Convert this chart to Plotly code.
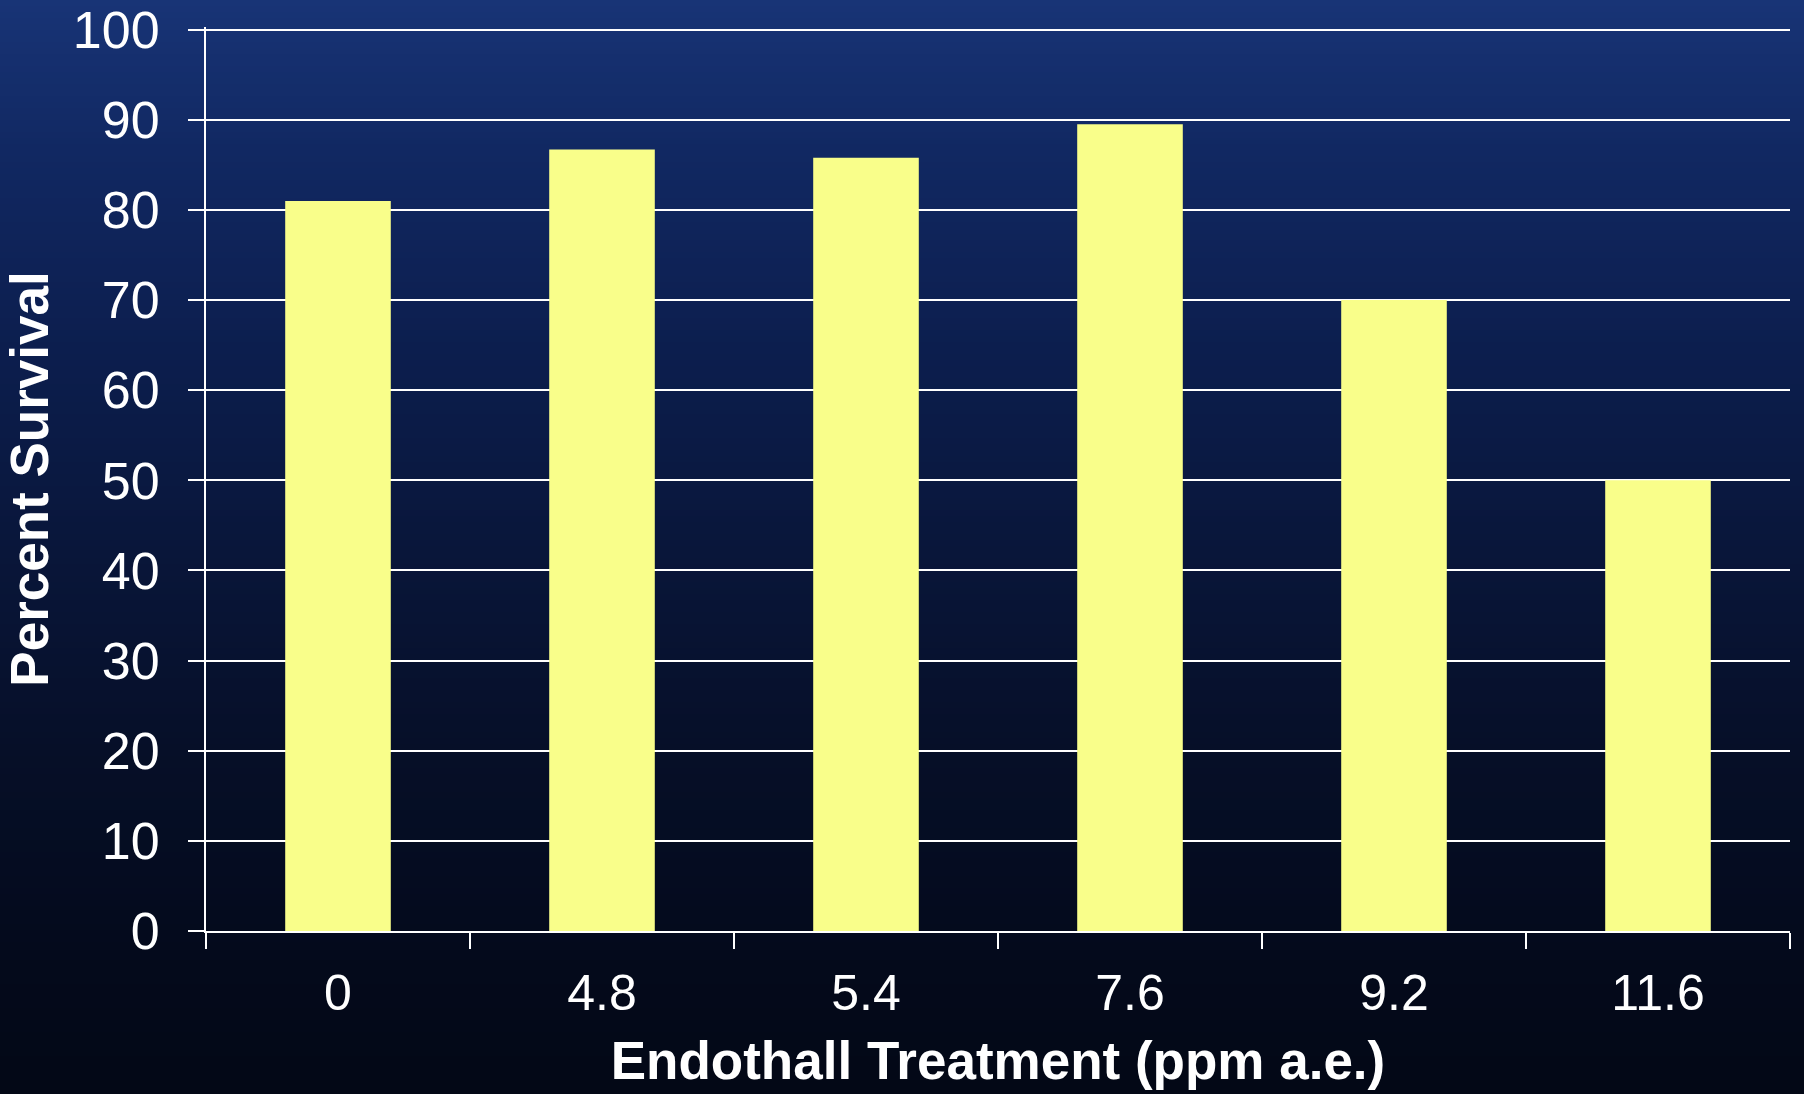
import plotly.graph_objects as go

# Endothall concentration (ppm a.e.) and percent survival
treatments = ["0", "4.8", "5.4", "7.6", "9.2", "11.6"]
survival = [81.0, 86.7, 85.8, 89.5, 70.0, 50.0]
y_ticks = [0, 10, 20, 30, 40, 50, 60, 70, 80, 90, 100]

W, H = 1804, 1094
M_L, M_R, M_T, M_B = 206, 14, 27, 163
plot_h = H - M_T - M_B

# Vertical navy gradient for the slide-style background (pixel y -> rgb)
grad_stops = [
    (0, (24, 52, 118)),
    (150, (17, 40, 98)),
    (350, (12, 30, 78)),
    (550, (9, 22, 58)),
    (750, (6, 15, 40)),
    (950, (4, 10, 28)),
    (H, (3, 8, 22)),
]


def grad_color(py):
    for (y0, c0), (y1, c1) in zip(grad_stops[:-1], grad_stops[1:]):
        if y0 <= py <= y1:
            t = (py - y0) / (y1 - y0)
            return "rgb({},{},{})".format(*[round(a + (b - a) * t) for a, b in zip(c0, c1)])
    return "rgb({},{},{})".format(*grad_stops[-1][1])


def to_paper_y(py):
    return (H - M_B - py) / plot_h


bg_shapes = []
band = 6
for py in range(0, H, band):
    top = to_paper_y(py) if py > 0 else 2.0
    bottom = to_paper_y(py + band + 1) if py + band < H else -1.0
    bg_shapes.append(dict(
        type="rect", xref="paper", yref="paper",
        x0=-0.3, x1=1.2,
        y0=bottom, y1=top,
        fillcolor=grad_color(py + band / 2),
        line=dict(width=0), layer="below",
    ))

fig = go.Figure(go.Bar(
    x=treatments,
    y=survival,
    marker=dict(color="#F9FE8A", line=dict(width=0)),
))

fig.update_layout(
    width=W, height=H,
    margin=dict(l=M_L, r=M_R, t=M_T, b=M_B),
    paper_bgcolor="#0a1640",
    plot_bgcolor="rgba(0,0,0,0)",
    bargap=0.6,
    showlegend=False,
    shapes=bg_shapes,
    font=dict(family="Liberation Sans, Arial, sans-serif", color="white"),
)

fig.update_xaxes(
    type="category",
    tickson="boundaries",
    ticks="outside", ticklen=16, tickwidth=2, tickcolor="white",
    showline=True, linecolor="white", linewidth=2,
    showgrid=False,
    automargin=False,
    tickfont=dict(size=50, color="white"),
    ticklabelstandoff=17,
    title=dict(text="<b>Endothall Treatment (ppm a.e.)</b>",
               font=dict(size=53, color="white"), standoff=22),
)

fig.update_yaxes(
    range=[0, 100.3],
    tickvals=y_ticks,
    ticks="outside", ticklen=16, tickwidth=2, tickcolor="white",
    showline=True, linecolor="white", linewidth=2,
    showgrid=True, gridcolor="white", gridwidth=2,
    zeroline=False,
    automargin=False,
    tickfont=dict(size=52, color="white"),
    ticklabelstandoff=18,
    title=dict(text="<b>Percent Survival</b>",
               font=dict(size=53, color="white"), standoff=18),
)

fig.write_html("out.html")
